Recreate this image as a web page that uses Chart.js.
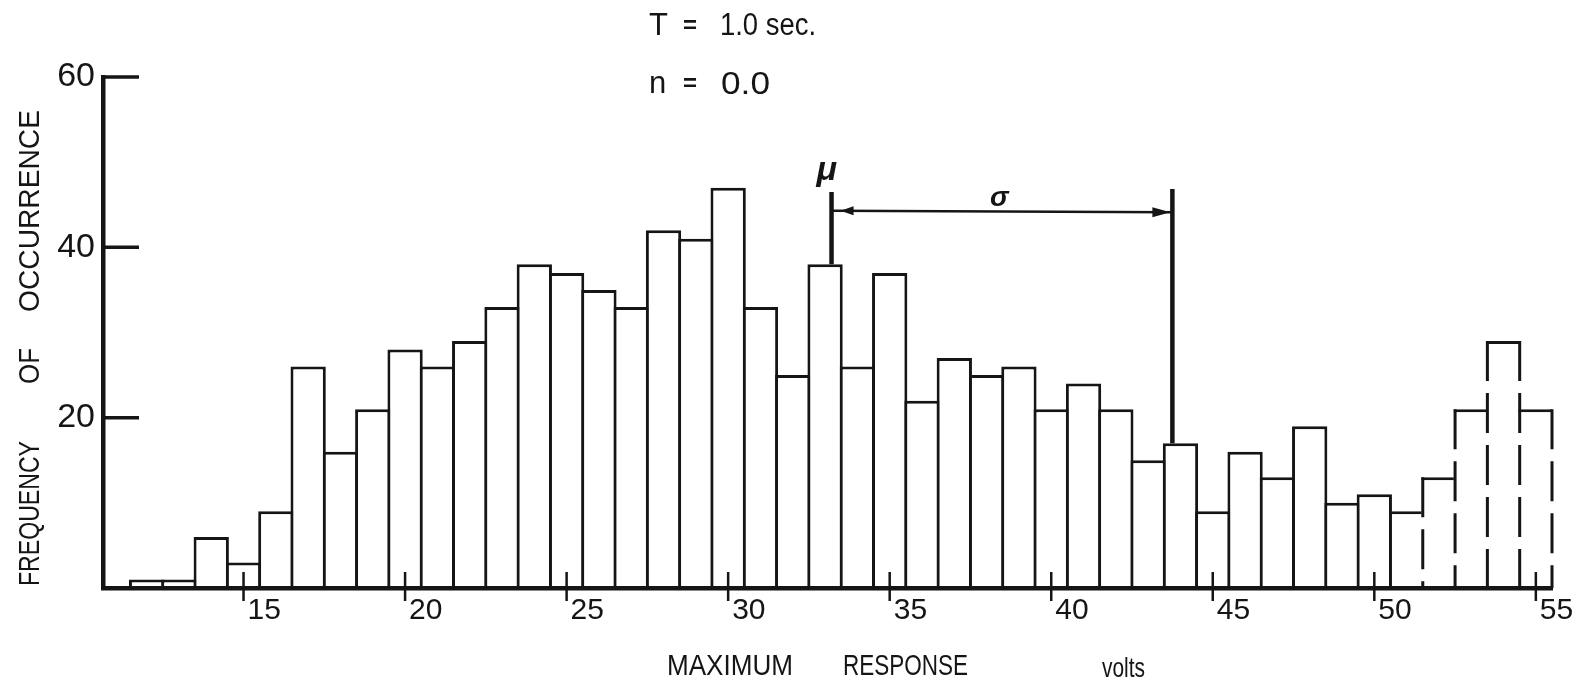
<!DOCTYPE html>
<html>
<head>
<meta charset="utf-8">
<title>Maximum response histogram</title>
<script src="https://cdn.jsdelivr.net/npm/chart.js@4.4.0/dist/chart.umd.min.js"></script>
<style>
  html, body { margin: 0; padding: 0; background: #fff; }
  #wrap { width: 1578px; height: 680px; position: relative; }
</style>
</head>
<body>
<div id="wrap"><canvas id="hist"></canvas></div>
<script>
// bin centres (volts) and number of occurrences in each bin
const bins = [12, 13, 14, 15, 16, 17, 18, 19, 20, 21, 22, 23, 24, 25, 26, 27, 28, 29, 30, 31, 32, 33,
              34, 35, 36, 37, 38, 39, 40, 41, 42, 43, 44, 45, 46, 47, 48, 49, 50, 51, 52, 53, 54, 55];
const counts = [1, 1, 6, 3, 9, 26, 16, 21, 28, 26, 29, 33, 38, 37, 35, 33, 42, 41, 47, 33, 25, 38,
                26, 37, 22, 27, 25, 26, 21, 24, 21, 15, 17, 9, 16, 13, 19, 10, 11, 9, 13, 21, 29, 21];
// bins drawn with broken sides
const dashedBins = [52, 53, 54, 55];

const xTicks = [15, 20, 25, 30, 35, 40, 45, 50, 55];
const yTicks = [20, 40, 60];

// mean and one standard deviation (volts)
const MU = 33.2;
const SIGMA = 10.55;

const INK = '#151515';
const FONT = '"Liberation Sans", Arial, sans-serif';
const LINE = 3;

const dashed = bins.map(b => dashedBins.includes(b));

function bordersFor(i) {
  if (dashed[i]) return { top: LINE, left: 0, right: 0, bottom: 0 };
  if (dashed[i + 1]) return { top: LINE, left: LINE, right: 0, bottom: 0 };
  return { top: LINE, left: LINE, right: LINE, bottom: 0 };
}

function text(ctx, str, x, y, size, opts = {}) {
  ctx.save();
  ctx.translate(x, y);
  if (opts.rotate) ctx.rotate(opts.rotate);
  ctx.font = (opts.style || '') + ' ' + size + 'px ' + FONT;
  let sx = opts.sx || 1;
  if (opts.fit) sx = opts.fit / ctx.measureText(str).width;
  ctx.scale(sx, 1);
  ctx.textAlign = opts.align || 'left';
  ctx.textBaseline = 'alphabetic';
  ctx.fillStyle = INK;
  ctx.fillText(str, 0, 0);
  ctx.restore();
}

const annotations = {
  id: 'annotations',
  afterDatasetsDraw(chart) {
    const { ctx, chartArea } = chart;
    const xs = chart.scales.x, ys = chart.scales.y;
    const base = ys.getPixelForValue(0);

    ctx.save();
    ctx.strokeStyle = INK;
    ctx.fillStyle = INK;

    // broken sides of the last bins
    const first = dashed.indexOf(true), last = dashed.lastIndexOf(true);
    ctx.lineWidth = LINE;
    ctx.setLineDash([40, 12]);
    for (let k = first; k <= last + 1; k++) {
      const h = Math.max(counts[k - 1], k <= last ? counts[k] : 0);
      const px = xs.getPixelForValue(bins[k - 1] + 0.5);
      ctx.beginPath();
      ctx.moveTo(px, ys.getPixelForValue(h));
      ctx.lineTo(px, base);
      ctx.stroke();
    }
    ctx.setLineDash([]);

    // x ticks cross the axis
    ctx.lineWidth = 2.5;
    xTicks.forEach(v => {
      const px = xs.getPixelForValue(v);
      ctx.beginPath();
      ctx.moveTo(px, base - 16);
      ctx.lineTo(px, base + 13);
      ctx.stroke();
    });

    // y ticks point inwards
    ctx.lineWidth = 3.5;
    yTicks.forEach(v => {
      const py = ys.getPixelForValue(v);
      ctx.beginPath();
      ctx.moveTo(chartArea.left, py);
      ctx.lineTo(chartArea.left + 36, py);
      ctx.stroke();
    });

    // mu and mu + sigma markers
    const muX = xs.getPixelForValue(MU);
    const sgX = xs.getPixelForValue(MU + SIGMA);
    const topY = ys.getPixelForValue(46.5);
    const muTop = ys.getPixelForValue(counts[bins.indexOf(Math.round(MU))]);
    const sgTop = ys.getPixelForValue(counts[bins.indexOf(Math.round(MU + SIGMA))]);
    ctx.lineWidth = 4.5;
    ctx.beginPath();
    ctx.moveTo(muX, topY); ctx.lineTo(muX, muTop);
    ctx.moveTo(sgX, topY - 3); ctx.lineTo(sgX, sgTop);
    ctx.stroke();

    const ay = ys.getPixelForValue(44.3);
    ctx.lineWidth = 2.5;
    ctx.beginPath();
    ctx.moveTo(muX, ay); ctx.lineTo(sgX, ay + 1.5);
    ctx.stroke();
    ctx.beginPath();
    ctx.moveTo(muX + 9, ay); ctx.lineTo(muX + 22, ay - 4.5); ctx.lineTo(muX + 22, ay + 4.5);
    ctx.closePath(); ctx.fill();
    ctx.beginPath();
    ctx.moveTo(sgX - 2, ay + 1.5); ctx.lineTo(sgX - 20, ay - 3.5); ctx.lineTo(sgX - 20, ay + 6.5);
    ctx.closePath(); ctx.fill();
    ctx.restore();

    text(ctx, 'μ', muX - 15, topY - 12, 34, { style: 'italic bold' });
    text(ctx, 'σ', (muX + sgX) / 2 - 12, ay - 5, 28, { style: 'italic bold' });
  },
  afterDraw(chart) {
    const { ctx } = chart;
    // run conditions
    text(ctx, 'T', 649, 35, 31);
    text(ctx, '=', 683, 33, 24, { style: 'bold' });
    text(ctx, '1.0 sec.', 720, 35, 31, { fit: 96 });
    text(ctx, 'n', 649, 93, 31);
    text(ctx, '=', 683, 91, 24, { style: 'bold' });
    text(ctx, '0.0', 721, 94, 32, { fit: 49 });

    // axis titles
    text(ctx, 'MAXIMUM', 667, 675, 30, { fit: 126 });
    text(ctx, 'RESPONSE', 843, 675, 30, { fit: 125 });
    text(ctx, 'volts', 1102, 677, 28, { fit: 43 });

    const up = -Math.PI / 2;
    text(ctx, 'FREQUENCY', 39, 586, 30, { rotate: up, fit: 145 });
    text(ctx, 'OF', 39, 384, 30, { rotate: up, fit: 36 });
    text(ctx, 'OCCURRENCE', 39, 312, 30, { rotate: up, fit: 202 });
  }
};

new Chart(document.getElementById('hist'), {
  type: 'bar',
  data: {
    datasets: [{
      data: bins.map((b, i) => ({ x: b, y: counts[i] })),
      backgroundColor: '#ffffff',
      borderColor: INK,
      borderWidth: c => bordersFor(c.dataIndex),
      borderSkipped: 'bottom',
      // slight overlap so neighbouring sides share one line
      barPercentage: 1.093,
      categoryPercentage: 1
    }]
  },
  options: {
    responsive: true,
    maintainAspectRatio: false,
    animation: false,
    devicePixelRatio: 1,
    layout: { padding: { top: 77, right: 26, bottom: 0, left: 0 } },
    plugins: {
      legend: { display: false },
      tooltip: { enabled: false }
    },
    scales: {
      x: {
        type: 'linear',
        min: 10.65,
        max: 55.5,
        offset: false,
        grid: { display: false, drawTicks: false },
        border: { display: true, color: INK, width: 4.5, z: 1 },
        afterBuildTicks: s => { s.ticks = xTicks.map(v => ({ value: v })); },
        afterFit: s => { s.height = 92; s.paddingLeft = 0; s.paddingRight = 0; },
        ticks: {
          align: 'start',
          labelOffset: 4,
          padding: 5,
          maxRotation: 0,
          autoSkip: false,
          color: INK,
          font: { family: FONT, size: 30 },
          callback: v => String(v)
        }
      },
      y: {
        min: 0,
        max: 60,
        grid: { display: false, drawTicks: false },
        border: { display: true, color: INK, width: 4.5, z: 1 },
        afterBuildTicks: s => { s.ticks = yTicks.map(v => ({ value: v })); },
        afterFit: s => { s.width = 103; s.paddingTop = 0; s.paddingBottom = 0; },
        ticks: {
          padding: 8,
          color: INK,
          font: { family: FONT, size: 34 },
          callback: v => String(v)
        }
      }
    }
  },
  plugins: [annotations]
});
</script>
</body>
</html>
